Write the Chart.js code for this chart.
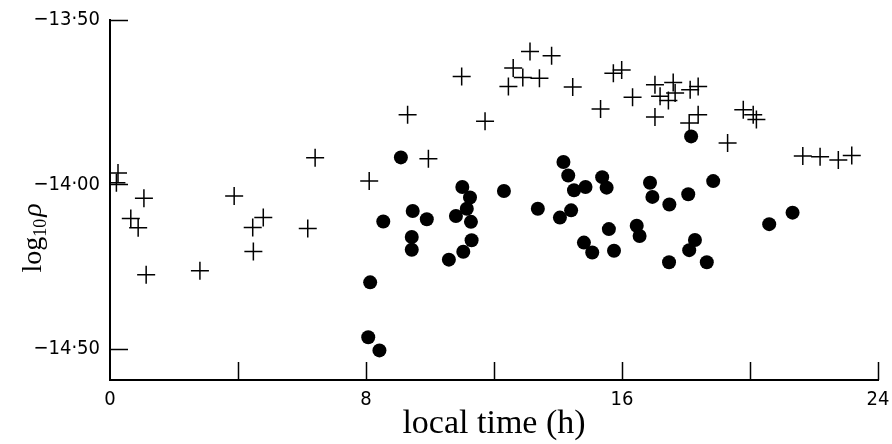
<!DOCTYPE html>
<html>
<head>
<meta charset="utf-8">
<script src="https://cdn.jsdelivr.net/npm/chart.js@4.4.1/dist/chart.umd.min.js"></script>
<style>
html,body{margin:0;padding:0;background:#fff;}
#wrap{width:892px;height:444px;}
</style>
</head>
<body>
<div id="wrap"><canvas id="c" width="892" height="444"></canvas></div>
<script>
// Crosses (+) : local time (h), log10 rho
const crossTime = [0.25,0.2,1.06,0.65,0.88,1.13,2.81,3.88,4.79,4.46,4.48,6.18,6.41,8.10,9.95,9.3,
  10.99,13.125,13.80,12.6,12.9,13.42,12.45,11.72,14.46,15.33,15.73,15.99,16.33,17.03,17.6,17.19,17.45,17.66,
  18.13,18.38,17.03,18.1,18.38,19.79,20.1,20.2,19.30,21.65,22.19,22.76,23.18];
const crossLogRho = [-13.965,-13.995,-14.042,-14.104,-14.132,-14.275,-14.263,-14.035,-14.101,-14.131,-14.204,-14.134,-13.919,-13.99,-13.922,-13.788,
  -13.672,-13.596,-13.609,-13.646,-13.675,-13.677,-13.702,-13.808,-13.704,-13.771,-13.662,-13.652,-13.735,-13.697,-13.69,-13.732,-13.745,-13.722,
  -13.712,-13.702,-13.795,-13.813,-13.788,-13.773,-13.788,-13.803,-13.874,-13.914,-13.916,-13.926,-13.912];
// Dots (filled circles)
const dotTime = [8.07,8.42,8.13,8.54,9.09,9.46,9.90,9.43,9.43,11.01,11.25,11.15,10.81,11.28,11.30,11.04,10.59,
  12.31,13.37,14.17,14.32,14.5,14.86,14.06,14.41,15.38,15.52,15.59,14.81,15.07,15.75,16.46,16.55,16.875,16.95,
  17.48,18.07,18.85,18.28,18.1,17.47,18.65,20.6,21.33,18.16];
const dotLogRho = [-14.465,-14.505,-14.298,-14.113,-13.918,-14.081,-14.106,-14.16,-14.199,-14.008,-14.04,-14.074,-14.096,-14.114,-14.17,-14.205,-14.229,
  -14.02,-14.074,-13.932,-13.973,-14.018,-14.008,-14.101,-14.079,-13.978,-14.01,-14.136,-14.177,-14.207,-14.202,-14.126,-14.157,-13.995,-14.038,
  -14.061,-14.03,-13.99,-14.169,-14.2,-14.237,-14.237,-14.121,-14.086,-13.854];

const xTickLabels = [0, 8, 16, 24];
const xTickMarks = [4, 8, 12, 16, 20, 24];
const yTickValues = [-14.5, -14.0, -13.5];
const xTitle = 'local time (h)';

const toPts = (xs, ys) => xs.map((v, i) => ({x: v, y: ys[i]}));
const fmtY = v => '\u2212' + Math.abs(v).toFixed(2).replace('.', '\u00B7');

const tickFont = {family: "'Liberation Sans Narrow','DejaVu Sans Condensed','Liberation Sans',sans-serif", size: 20};

const inwardTicks = {
  id: 'inwardTicks',
  afterDraw(chart) {
    const {ctx, scales: {x, y}} = chart;
    ctx.save();
    ctx.strokeStyle = '#000';
    ctx.lineWidth = 1.5;
    ctx.beginPath();
    xTickMarks.forEach(v => {
      const px = Math.round(x.getPixelForValue(v)) + 0.5;
      ctx.moveTo(px, y.bottom);
      ctx.lineTo(px, y.bottom - 18);
    });
    yTickValues.forEach(v => {
      const py = Math.round(y.getPixelForValue(v)) + 0.5;
      ctx.moveTo(x.left, py);
      ctx.lineTo(x.left + 18, py);
    });
    ctx.stroke();
    // y axis title: log10 rho
    ctx.fillStyle = '#000';
    ctx.translate(33, 238);
    ctx.rotate(-Math.PI / 2);
    ctx.textBaseline = 'alphabetic';
    const serif = "'Liberation Serif','DejaVu Serif',serif";
    ctx.font = '28px ' + serif;
    const w1 = ctx.measureText('log').width;
    ctx.font = '18px ' + serif;
    const w2 = ctx.measureText('10').width;
    ctx.font = 'italic 28px ' + serif;
    const w3 = ctx.measureText('\u03C1').width;
    let sx = -(w1 + w2 + w3 + 2) / 2;
    ctx.font = '28px ' + serif;
    ctx.fillText('log', sx, 8);
    sx += w1;
    ctx.font = '18px ' + serif;
    ctx.fillText('10', sx, 13);
    sx += w2 + 2;
    ctx.font = 'italic 28px ' + serif;
    ctx.fillText('\u03C1', sx, 8);
    ctx.restore();
  }
};

new Chart(document.getElementById('c'), {
  type: 'scatter',
  data: {
    datasets: [
      {
        label: 'cross',
        data: toPts(crossTime, crossLogRho),
        pointStyle: 'cross',
        pointRadius: 9,
        pointHoverRadius: 9,
        borderColor: '#000',
        backgroundColor: '#000',
        pointBorderWidth: 1.5
      },
      {
        label: 'dot',
        data: toPts(dotTime, dotLogRho),
        pointStyle: 'circle',
        pointRadius: 7,
        pointHoverRadius: 7,
        borderColor: '#000',
        backgroundColor: '#000',
        pointBorderWidth: 0
      }
    ]
  },
  options: {
    responsive: false,
    animation: false,
    events: [],
    layout: {padding: {top: 20, right: 14, left: 0, bottom: 0}},
    plugins: {legend: {display: false}, tooltip: {enabled: false}},
    scales: {
      x: {
        type: 'linear',
        min: 0, max: 24,
        afterBuildTicks: s => { s.ticks = xTickLabels.map(v => ({value: v})); },
        afterFit: s => { s.height = 64; },
        grid: {display: false},
        border: {display: true, color: '#000', width: 2},
        ticks: {color: '#000', font: tickFont, padding: 0, maxRotation: 0},
        title: {display: true, text: xTitle, color: '#000',
          font: {family: "'Liberation Serif','DejaVu Serif',serif", size: 34}, padding: {top: 0, bottom: 0}}
      },
      y: {
        type: 'linear',
        min: -14.595, max: -13.5,
        afterBuildTicks: s => { s.ticks = yTickValues.map(v => ({value: v})); },
        afterFit: s => { s.width = 110; },
        grid: {display: false},
        border: {display: true, color: '#000', width: 2},
        ticks: {color: '#000', font: tickFont, padding: 2, callback: v => fmtY(v)}
      }
    }
  },
  plugins: [inwardTicks]
});
</script>
</body>
</html>
